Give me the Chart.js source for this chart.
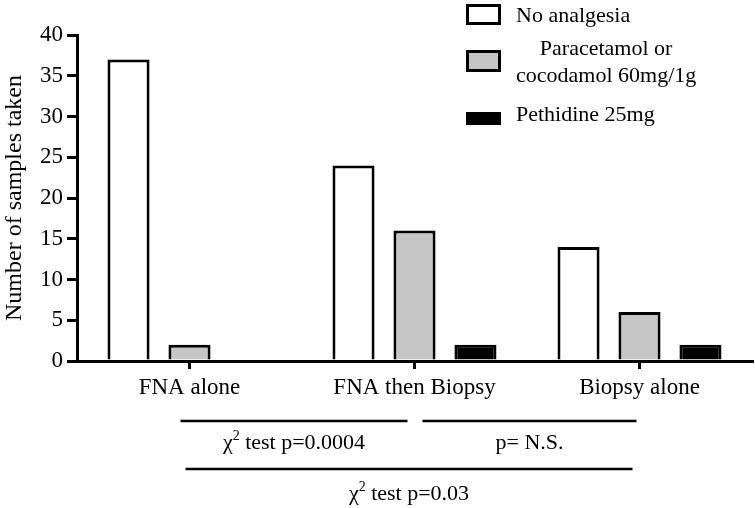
<!DOCTYPE html>
<html lang="en">
<head>
  <meta charset="UTF-8">
  <title>Samples taken by analgesia</title>
  <style>
    html, body { margin: 0; padding: 0; background: #fff; }
    .grafico { width: 755px; height: 508px; position: relative; }
  </style>
</head>
<body>
  <div class="grafico">
    <canvas id="myCanvas"></canvas>
  </div>

<script src="https://cdn.jsdelivr.net/npm/chart.js"></script>
<script>
  // data
  const categories = ['FNA alone', 'FNA then Biopsy', 'Biopsy alone'];
  const seriesNames = [['No analgesia'], ['Paracetamol or', 'cocodamol 60mg/1g'], ['Pethidine 25mg']];
  const noAnalgesia = [37, 24, 14];
  const paracetamol = [2, 16, 6];
  const pethidine = [0, 2, 2];
  const yMax = 40;
  const yStep = 5;
  const comparisonLabels = ['test p=0.0004', 'p= N.S.', 'test p=0.03'];
  const comparisonChi = [true, false, true];

  const serif = '"Liberation Serif", "Times New Roman", serif';
  const fillColors = ['#ffffff', '#c6c6c6', '#000000'];

  Chart.defaults.color = '#000';
  Chart.defaults.font.family = serif;

  // legend drawn by hand, top right
  const legendPlugin = {
    id: 'sideLegend',
    afterDraw(chart) {
      const ctx = chart.ctx;
      const boxes = [
        { y: 4, h: 21, base: [22] },
        { y: 50, h: 22, base: [55, 82] },
        { y: 112, h: 13, base: [121] }
      ];
      ctx.save();
      ctx.font = '22px ' + serif;
      ctx.fillStyle = '#000';
      seriesNames.forEach((lines, i) => {
        const b = boxes[i];
        ctx.fillStyle = fillColors[i];
        ctx.fillRect(466, b.y, 35, b.h);
        ctx.strokeStyle = '#000';
        ctx.lineWidth = 3;
        ctx.strokeRect(466 + 1.5, b.y + 1.5, 32, b.h - 3);
        ctx.fillStyle = '#000';
        ctx.textBaseline = 'alphabetic';
        if (lines.length === 1) {
          ctx.textAlign = 'left';
          ctx.fillText(lines[0], 516, b.base[0]);
        } else {
          const w = Math.max(...lines.map(l => ctx.measureText(l).width));
          ctx.textAlign = 'center';
          lines.forEach((l, k) => ctx.fillText(l, 516 + w / 2, b.base[k]));
        }
      });
      ctx.restore();
    }
  };

  // comparison brackets under the axis
  const bracketPlugin = {
    id: 'brackets',
    afterDraw(chart) {
      const ctx = chart.ctx;
      const x = chart.scales.x;
      const rows = [
        { from: 0, dFrom: -9, to: 1, dTo: -7, lineY: 421, base: 449 },
        { from: 1, dFrom: 8, to: 2, dTo: -3, lineY: 421, base: 449 },
        { from: 0, dFrom: -4, to: 2, dTo: -7, lineY: 469, base: 500 }
      ];
      ctx.save();
      ctx.strokeStyle = '#000';
      ctx.fillStyle = '#000';
      ctx.lineWidth = 2.5;
      rows.forEach((r, i) => {
        const x0 = x.getPixelForValue(r.from) + r.dFrom;
        const x1 = x.getPixelForValue(r.to) + r.dTo;
        ctx.beginPath();
        ctx.moveTo(x0, r.lineY);
        ctx.lineTo(x1, r.lineY);
        ctx.stroke();

        const cx = (x0 + x1) / 2;
        ctx.textBaseline = 'alphabetic';
        ctx.textAlign = 'left';
        ctx.font = '22px ' + serif;
        const rest = comparisonChi[i] ? ' ' + comparisonLabels[i] : comparisonLabels[i];
        const wRest = ctx.measureText(rest).width;
        let wChi = 0, wSup = 0;
        if (comparisonChi[i]) {
          wChi = ctx.measureText('\u03c7').width;
          ctx.font = '14px ' + serif;
          wSup = ctx.measureText('2').width;
        }
        let px = cx - (wChi + wSup + wRest) / 2;
        if (comparisonChi[i]) {
          ctx.font = '22px ' + serif;
          ctx.fillText('\u03c7', px, r.base);
          px += wChi;
          ctx.font = '14px ' + serif;
          ctx.fillText('2', px, r.base - 9);
          px += wSup;
        }
        ctx.font = '22px ' + serif;
        ctx.fillText(rest, px, r.base);
      });
      ctx.restore();
    }
  };

  const ctx = document.getElementById('myCanvas').getContext('2d');
  const chart = new Chart(ctx, {
    type: 'bar',
    data: {
      labels: categories,
      datasets: [
        { label: seriesNames[0].join(' '), data: noAnalgesia, backgroundColor: fillColors[0] },
        { label: seriesNames[1].join(' '), data: paracetamol, backgroundColor: fillColors[1] },
        { label: seriesNames[2].join(' '), data: pethidine, backgroundColor: fillColors[2] }
      ]
    },
    options: {
      responsive: true,
      maintainAspectRatio: false,
      animation: false,
      layout: { padding: { top: 35, right: 3, left: 0, bottom: 0 } },
      datasets: {
        bar: {
          borderColor: '#000',
          borderWidth: 3,
          borderSkipped: 'bottom',
          categoryPercentage: 0.813,
          barPercentage: 0.69
        }
      },
      plugins: {
        legend: { display: false },
        tooltip: { enabled: false }
      },
      scales: {
        x: {
          afterFit(scale) { scale.height = 147; },
          grid: {
            offset: false,
            drawOnChartArea: false,
            drawTicks: true,
            tickLength: 8,
            color: '#000',
            lineWidth: 3
          },
          border: { display: true, color: '#000', width: 3 },
          ticks: { font: { size: 23 }, padding: 5, color: '#000', maxRotation: 0 }
        },
        y: {
          min: 0,
          max: yMax,
          afterFit(scale) { scale.width = 77; },
          grid: {
            drawOnChartArea: false,
            drawTicks: true,
            tickLength: 10,
            color: '#000',
            lineWidth: 3
          },
          border: { display: true, color: '#000', width: 3 },
          ticks: { stepSize: yStep, font: { size: 23 }, padding: 4, color: '#000' },
          title: {
            display: true,
            text: 'Number of samples taken',
            font: { size: 24 },
            color: '#000',
            padding: { top: 0, bottom: 0 }
          }
        }
      }
    },
    plugins: [legendPlugin, bracketPlugin]
  });
</script>
</body>
</html>
